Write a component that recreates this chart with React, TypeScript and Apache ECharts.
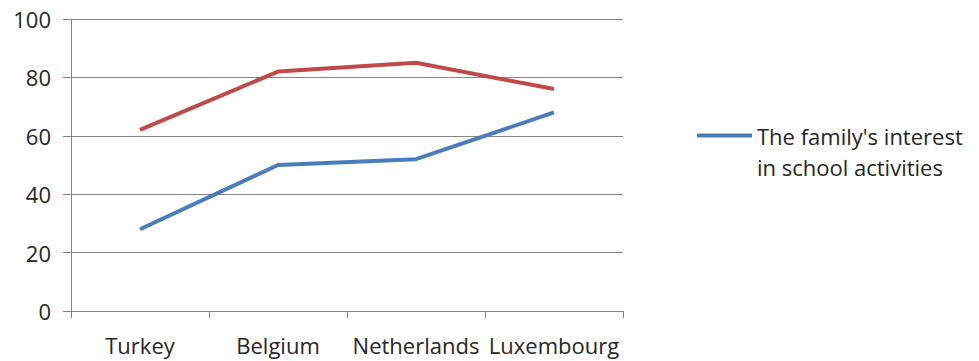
import React, { useEffect, useRef } from "react";
import * as echarts from "echarts";

const categories = ["Turkey", "Belgium", "Netherlands", "Luxembourg"];
const familyInterest = [28, 50, 52, 68];
const otherSeries = [62, 82, 85, 76];
const yTicks = { min: 0, max: 100, interval: 20 };
const legendName = "The family's interest in school activities";
const otherName = "Series 2";

export default function App() {
  const ref = useRef<HTMLDivElement>(null);
  useEffect(() => {
    if (!ref.current) return;
    const chart = echarts.init(ref.current, null, { renderer: "svg" });
    const font = "'Open Sans', 'Noto Sans', sans-serif";
    const grey = "#868686";
    const fs = 22;
    chart.setOption({
      animation: false,
      backgroundColor: "#ffffff",
      textStyle: { fontFamily: font },
      grid: { left: 71, right: 356, top: 19, bottom: 50 },
      legend: {
        data: [legendName],
        left: 697,
        top: 120,
        padding: 0,
        itemGap: 10,
        itemWidth: 55,
        itemHeight: 35,
        icon: "path://M0,0L55,0L55,4L0,4ZM0,35L0.001,35Z",
        formatter: () => "The family's interest\nin school activities",
        textStyle: { fontSize: fs, color: "#262626", lineHeight: 31, fontFamily: font },
      },
      xAxis: {
        type: "category",
        data: categories,
        boundaryGap: true,
        axisLine: { show: true, lineStyle: { color: grey, width: 1 } },
        axisTick: { show: true, interval: 0, length: 7, lineStyle: { color: grey } },
        axisLabel: { interval: 0, margin: 23, fontSize: fs, color: "#262626", fontFamily: font },
        splitLine: { show: false },
      },
      yAxis: {
        type: "value",
        min: yTicks.min,
        max: yTicks.max,
        interval: yTicks.interval,
        axisLine: { show: true, lineStyle: { color: grey, width: 1 } },
        axisTick: { show: true, length: 8, lineStyle: { color: grey } },
        axisLabel: { margin: 20, fontSize: fs, color: "#262626", fontFamily: font },
        splitLine: { show: true, lineStyle: { color: grey, width: 1 } },
      },
      series: [
        {
          name: legendName,
          type: "line",
          data: familyInterest,
          symbol: "none",
          color: "#4a7ebb",
          lineStyle: { color: "#4a7ebb", width: 4 },
        },
        {
          name: otherName,
          type: "line",
          data: otherSeries,
          symbol: "none",
          color: "#be4b48",
          lineStyle: { color: "#be4b48", width: 4 },
        },
      ],
    });
    return () => chart.dispose();
  }, []);
  return (
    <div
      ref={ref}
      style={{ position: "fixed", left: 0, top: 0, width: 979, height: 361 }}
    />
  );
}
